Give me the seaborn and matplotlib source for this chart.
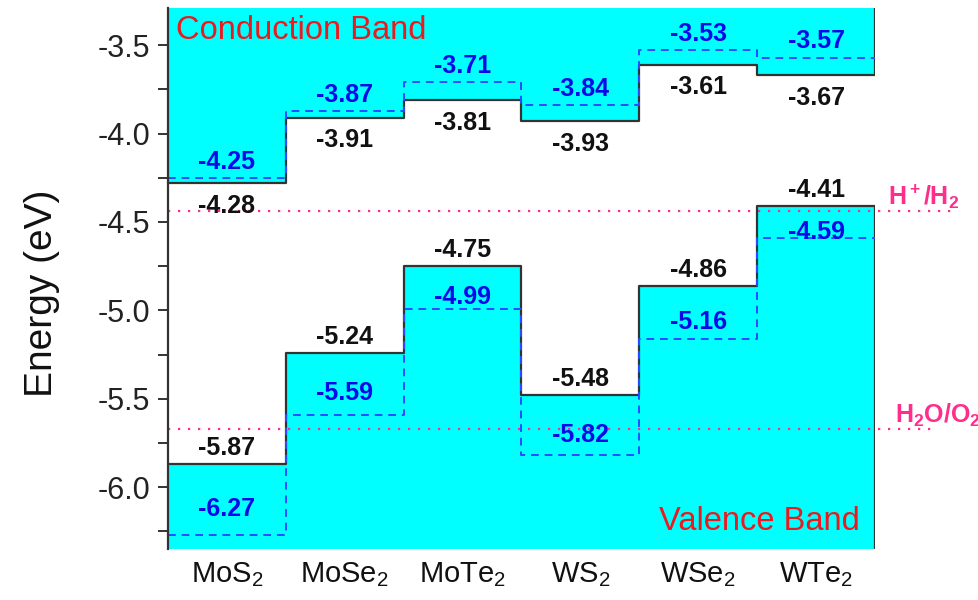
import numpy as np
import matplotlib
matplotlib.use('Agg')
import matplotlib.pyplot as plt
import seaborn as sns
from matplotlib.ticker import MultipleLocator, FormatStrFormatter

materials = ['MoS$_2$', 'MoSe$_2$', 'MoTe$_2$', 'WS$_2$', 'WSe$_2$', 'WTe$_2$']
cb_black = [-4.28, -3.91, -3.81, -3.93, -3.61, -3.67]
cb_blue = [-4.25, -3.87, -3.71, -3.84, -3.53, -3.57]
vb_black = [-5.87, -5.24, -4.75, -5.48, -4.86, -4.41]
vb_blue = [-6.27, -5.59, -4.99, -5.82, -5.16, -4.59]
redox_labels = [r'$\mathbf{H^+/H_2}$', r'$\mathbf{H_2O/O_2}$']
redox_values = [-4.44, -5.67]

sns.set_theme(style='ticks')
plt.rcParams['font.family'] = ['Liberation Sans', 'DejaVu Sans']
plt.rcParams['mathtext.fontset'] = 'custom'
plt.rcParams['mathtext.rm'] = 'Liberation Sans'
plt.rcParams['mathtext.it'] = 'Liberation Sans:italic'
plt.rcParams['mathtext.bf'] = 'Liberation Sans:bold'
plt.rcParams['axes.unicode_minus'] = False

CYAN = '#00FFFF'
DARK = '#333333'
BLUE_LINE = '#2a4cff'
BLUE_TXT = '#0a0ae6'
PINK = '#ff2d8c'
RED = '#ea1a1e'

fig = plt.figure(figsize=(9.79, 6), dpi=100)
ax = fig.add_axes([168 / 979, 1 - 549 / 600, (875 - 168) / 979, (549 - 8) / 600])
ylo, yhi = -6.35, -3.29
n = len(materials)
edges = np.arange(n + 1)


def stepvals(v):
    return np.append(np.asarray(v, float), v[-1])


# filled bands
ax.fill_between(edges, stepvals(cb_black), yhi, step='post', color=CYAN, lw=0, zorder=1)
ax.fill_between(edges, stepvals(vb_black), ylo, step='post', color=CYAN, lw=0, zorder=1)

# black band edges
for vals in (cb_black, vb_black):
    sns.lineplot(x=edges, y=stepvals(vals), drawstyle='steps-post', color=DARK, lw=1.6,
                 ax=ax, zorder=3, sort=False, estimator=None)
ax.vlines(n, cb_black[-1], yhi, color=DARK, lw=1.6, zorder=3)
ax.vlines(n, ylo, vb_black[-1], color=DARK, lw=1.6, zorder=3)

# blue dashed levels
for vals in (cb_blue, vb_blue):
    sns.lineplot(x=edges, y=stepvals(vals), drawstyle='steps-post', color=BLUE_LINE, lw=1.4,
                 linestyle=(0, (4, 3)), ax=ax, zorder=4, sort=False, estimator=None)

# redox potentials
ends = [6.65, 6.5]
for val, lab, xe, xt in zip(redox_values, redox_labels, ends, [6.11, 6.17]):
    ax.plot([0, xe], [val, val], color=PINK, lw=1.6, linestyle=(0, (1, 3.5)), clip_on=False, zorder=2)
    ax.text(xt, val + 0.035, lab, color=PINK, fontsize=18, ha='left', va='baseline', clip_on=False)

# value labels
fs = 18
for i in range(n):
    xc = i + 0.5
    ax.annotate(f'{cb_black[i]:.2f}', (xc, cb_black[i]), xytext=(0, -21.5), textcoords='offset points',
                ha='center', va='baseline', fontsize=fs, fontweight='bold', color='#111111', zorder=5)
    ax.annotate(f'{cb_blue[i]:.2f}', (xc, cb_blue[i]), xytext=(0, 6.5), textcoords='offset points',
                ha='center', va='baseline', fontsize=fs, fontweight='bold', color=BLUE_TXT, zorder=5)
    ax.annotate(f'{vb_black[i]:.2f}', (xc, vb_black[i]), xytext=(0, 6.5), textcoords='offset points',
                ha='center', va='baseline', fontsize=fs, fontweight='bold', color='#111111', zorder=5)
    mid = (vb_black[i] + vb_blue[i]) / 2
    ax.annotate(f'{vb_blue[i]:.2f}', (xc, mid), xytext=(0, -12), textcoords='offset points',
                ha='center', va='baseline', fontsize=fs, fontweight='bold', color=BLUE_TXT, zorder=5)

ax.text(0.07, -3.468, 'Conduction Band', color=RED, fontsize=23.5, ha='left', va='baseline', zorder=5)
ax.text(5.87, -6.24, 'Valence Band', color=RED, fontsize=23.5, ha='right', va='baseline', zorder=5)

ax.set_xlim(0, n)
ax.set_ylim(ylo, yhi)
ax.set_xticks(edges[:-1] + 0.5)
ax.set_xticklabels(materials, fontsize=21, color='#111111')
ax.yaxis.set_major_locator(MultipleLocator(0.5))
ax.yaxis.set_minor_locator(MultipleLocator(0.25))
ax.yaxis.set_major_formatter(FormatStrFormatter('%.1f'))
for t in ax.get_yticklabels():
    t.set_fontsize(22)
    t.set_color('#222222')
ax.tick_params(axis='x', length=0, pad=8)
ax.tick_params(axis='y', which='major', length=7, width=1.4, color=DARK, pad=6, direction='out')
ax.tick_params(axis='y', which='minor', length=7, width=1.4, color=DARK, direction='out')
for s in ['top', 'right', 'bottom']:
    ax.spines[s].set_visible(False)
ax.spines['left'].set_color(DARK)
ax.spines['left'].set_linewidth(1.6)
ax.spines['left'].set_zorder(6)
ax.set_ylabel('')
ax.set_xlabel('')
ax.set_facecolor('white')

fig.text(42 / 979, 1 - 293 / 600, 'Energy (eV)', rotation=90, ha='center', va='center',
         fontsize=28, color='#111111')

fig.savefig('out.png', dpi=100)
